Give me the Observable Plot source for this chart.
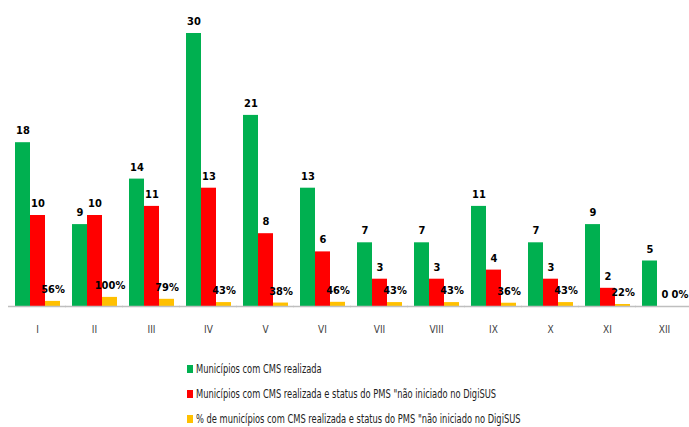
<!DOCTYPE html>
<html><head><meta charset="utf-8">
<script src="https://cdn.jsdelivr.net/npm/d3@7"></script>
<script src="https://cdn.jsdelivr.net/npm/@observablehq/plot@0.6"></script>
<style>
body{margin:0;background:#fff;font-family:"Liberation Sans Narrow","DejaVu Sans Condensed",sans-serif;}
#legend{margin-left:187px;margin-top:11px;font-size:12px;color:#222;}
.item{display:flex;align-items:center;height:25px;white-space:nowrap;}
.sw{width:6px;height:8px;margin-right:3px;flex:none;}
.tx{display:inline-block;transform:scaleX(0.77);transform-origin:left center;}
</style></head><body><div id="chart"></div><div id="legend"></div>
<script>
const regions = ["I","II","III","IV","V","VI","VII","VIII","IX","X","XI","XII"];
const cmsRealizada = [18,9,14,30,21,13,7,7,11,7,9,5];
const naoIniciado = [10,10,11,13,8,6,3,3,4,3,2,0];
const percentual = [56,100,79,43,38,46,43,43,36,43,22,0];
const seriesKeys = ["cms","nao","pct"];
const seriesNames = [
  "Municípios com CMS realizada",
  "Municípios com CMS realizada e status do PMS \"não iniciado no DigiSUS",
  "% de municípios com CMS realizada e status do PMS \"não iniciado no DigiSUS"
];
const colors = ["#00B050","#FF0000","#FFC000"];

const rows = regions.flatMap((r, i) => [
  {region: r, serie: "cms", value: cmsRealizada[i], label: String(cmsRealizada[i])},
  {region: r, serie: "nao", value: naoIniciado[i], label: String(naoIniciado[i])},
  {region: r, serie: "pct", value: percentual[i] / 100, label: percentual[i] + "%"}
]);

const chart = Plot.plot({
  width: 689, height: 345,
  marginTop: 33, marginBottom: 39, marginLeft: 12, marginRight: 0,
  style: {fontFamily: "'Liberation Sans Narrow','DejaVu Sans Condensed',sans-serif", background: "#fff"},
  fx: {domain: regions, paddingInner: 0.19, paddingOuter: 0, label: null, tickSize: 0, tickPadding: 19, fontSize: 10},
  x: {domain: seriesKeys, padding: 0, axis: null},
  y: {domain: [0, 30], axis: null},
  color: {domain: seriesKeys, range: colors},
  marks: [
    Plot.barY(rows, {fx: "region", x: "serie", y: "value", fill: "serie"}),
    Plot.ruleY([0], {stroke: "#bfbfbf", strokeWidth: 1.5, insetLeft: -6, insetRight: -6}),
    Plot.text(rows, {fx: "region", x: "serie", y: "value", text: "label", dy: -12, fontWeight: "bold", fontSize: 11, fill: "#000"})
  ]
});
chart.querySelectorAll('g[aria-label="fx-axis tick label"]').forEach(e => e.setAttribute("fill", "#404040"));
document.getElementById("chart").appendChild(chart);

const legend = document.getElementById("legend");
seriesNames.forEach((name, i) => {
  const it = document.createElement("div"); it.className = "item";
  const sw = document.createElement("span"); sw.className = "sw"; sw.style.background = colors[i];
  const tx = document.createElement("span"); tx.className = "tx"; tx.textContent = name;
  it.appendChild(sw); it.appendChild(tx); legend.appendChild(it);
});
</script></body></html>
